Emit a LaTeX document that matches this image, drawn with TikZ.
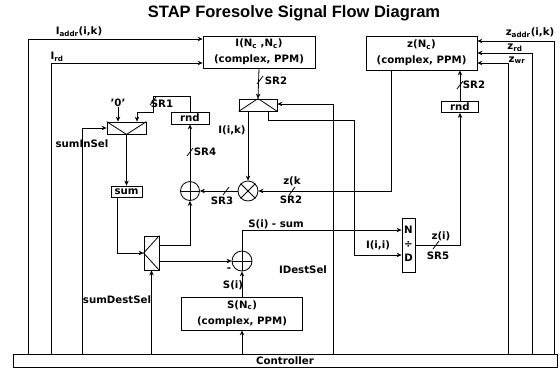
\documentclass[tikz,border=0pt]{standalone}
\usepackage{fontspec}
\setmainfont{DejaVu Sans}
\newfontfamily\titlefont{Liberation Sans}
\usetikzlibrary{arrows.meta}
\newcommand{\busmark}[1]{\draw (#1) ++(-3,4) -- ++(6,-8);}

\begin{document}
\begin{tikzpicture}[
  x=1pt, y=-1pt, line width=0.8pt,
  font=\fontsize{10.2}{16}\selectfont\bfseries,
  box/.style={draw, inner sep=0pt, align=center},
  mux/.style={draw, inner sep=0pt},
  sumnode/.style={draw, circle, inner sep=0pt, minimum size=19pt},
  lbl/.style={inner sep=0pt},
  >={Stealth[length=5pt,width=4.5pt]}
]
  \useasboundingbox (0,0) rectangle (560,368);

  \node[font=\titlefont\fontsize{16.5}{18}\selectfont\bfseries] (title) at (294,13) {STAP Foresolve Signal Flow Diagram};

  \node[box, minimum width=112pt, minimum height=32pt] (Imem) at (259,52) {I(N\textsubscript{c} ,N\textsubscript{c})\\(complex, PPM)};
  \node[box, minimum width=111pt, minimum height=34pt] (zmem) at (421.5,53) {z(N\textsubscript{c})\\(complex, PPM)};
  \node[box, minimum width=121pt, minimum height=33pt] (Smem) at (242,313.5) {S(N\textsubscript{c})\\(complex, PPM)};
  \node[box, minimum width=544pt, minimum height=13pt] (ctrl) at (285,360.5) {Controller};
  \node[box, minimum width=38pt, minimum height=12pt] (rndA) at (190,118) {rnd};
  \node[box, minimum width=37pt, minimum height=11pt] (rndB) at (460,107) {rnd};
  \node[box, minimum width=31pt, minimum height=11pt] (sumreg) at (126.5,191.5) {sum};

  \node[mux, minimum width=39pt, minimum height=12pt] (muxA) at (126.5,128) {};
  \node[mux, minimum width=38pt, minimum height=12pt] (muxB) at (258,105) {};
  \node[mux, minimum width=15pt, minimum height=34pt] (muxC) at (151.5,253) {};
  \node[mux, minimum width=13pt, minimum height=54pt] (div) at (408.5,245) {};
  \node[lbl] at ([yshift=15pt]div.center) {N};
  \node[lbl] at (div.center) {÷};
  \node[lbl] at ([yshift=-13pt]div.center) {D};

  \node[sumnode] (addA) at (190,191) {};
  \node[sumnode, minimum size=20pt] (mulA) at (248,191) {};
  \node[sumnode, minimum size=20pt] (addB) at (242,261) {};

  \draw (muxA.north west) -- (muxA.south) -- (muxA.north east);
  \draw (muxB.south west) -- (muxB.north) -- (muxB.south east);
  \draw (muxC.north east) -- (muxC.west) -- (muxC.south east);
  \draw (addA.north) -- (addA.south) (addA.west) -- (addA.east);
  \draw (addB.north) -- (addB.south) (addB.west) -- (addB.east);
  \draw (mulA.north west) -- (mulA.south east) (mulA.north east) -- (mulA.south west);

  \coordinate (ia) at (28,39);
  \coordinate (ir) at (51,63);
  \coordinate (sis) at (82,128);
  \coordinate (ids) at (333,104);
  \coordinate (za) at (554,41);
  \coordinate (zr) at (532,53);
  \coordinate (zw) at (508,63);
  \coordinate (zk) at (391,191);
  \coordinate (iii) at (354,255);
  \coordinate (sr1a) at (153,96);
  \coordinate (sr1b) at (137,112);

  \draw[->] (ia |- ctrl.north) -- (ia) -- (ia -| Imem.west);
  \draw[->] (ir |- ctrl.north) -- (ir) -- (ir -| Imem.west);
  \draw[->] (sis |- ctrl.north) -- (sis) -- (sis -| muxA.west);
  \draw[->] (muxC.south |- ctrl.north) -- (muxC.south);
  \draw[->] (Smem.south |- ctrl.north) -- (Smem.south);
  \draw[->] (ids |- ctrl.north) -- (ids) -- (ids -| muxB.east);
  \draw[->] (za |- ctrl.north) -- (za) -- (za -| zmem.east);
  \draw[->] (zr |- ctrl.north) -- (zr) -- (zr -| zmem.east);
  \draw[->] (zw |- ctrl.north) -- (zw) -- (zw -| zmem.east);

  \draw[->] (Imem.south) -- (muxB.north);
  \draw[->] (mulA.north |- muxB.south) -- (mulA.north);
  \draw[->] ([xshift=10pt]muxB.south) -- ++(0,9) -| (iii) -- (iii -| div.west);
  \draw[->] (zk |- zmem.south) -- (zk) -- (mulA.east);
  \draw[->] (mulA.west) -- (addA.east);
  \draw[->] (addA.north) -- (rndA.south);
  \draw[->] (rndA.north) |- (sr1a) -- (sr1a |- sr1b) -- (sr1b) -- (sr1b |- muxA.north);
  \node[lbl] (zero) at (118,103) {'0'};
  \draw[->] (zero) -- (zero |- muxA.north);
  \draw[->] (muxA.south) -- (sumreg.north);
  \draw[->] ([xshift=-9pt]sumreg.south) |- (muxC.west);
  \draw[->] ([yshift=8pt]muxC.east) -| (addA.south);
  \draw[->] (muxC.east |- addB.west) -- (addB.west);
  \draw[->] (Smem.north) -- (addB.south);
  \draw[->] (addB.north) |- ([yshift=15pt]div.west);
  \draw[->] (div.east) -| (rndB.south);
  \draw[->] (rndB.north) -- (rndB.north |- zmem.south);

  \busmark{153,101}
  \busmark{260,80}
  \busmark{190,152}
  \busmark{226,191}
  \busmark{292,191}
  \busmark{436,245}
  \busmark{460,85}

  \node[lbl] at (79,32) {I\textsubscript{addr}(i,k)};
  \node[lbl] at (57,57) {I\textsubscript{rd}};
  \node[lbl] at (162,104) {SR1};
  \node[lbl] at (82,144) {sumInSel};
  \node[lbl] at (232,130) {I(i,k)};
  \node[lbl] at (276,81) {SR2};
  \node[lbl] at (205,152) {SR4};
  \node[lbl] at (222,201) {SR3};
  \node[lbl] at (292,181) {z(k};
  \node[lbl] at (291,200) {SR2};
  \node[lbl] at (276,224) {S(i) - sum};
  \node[lbl] at (378,245) {I(i,i)};
  \node[lbl] at (303,270) {IDestSel};
  \node[lbl] at (441,236) {z(i)};
  \node[lbl] at (438,256) {SR5};
  \node[lbl] at (474,85) {SR2};
  \node[lbl] at (233,285) {S(i)};
  \node[lbl] at (117,300) {sumDestSel};
  \node[lbl] at (229,270) {-};
  \node[lbl] at (530,33) {z\textsubscript{addr}(i,k)};
  \node[lbl] at (515,48) {z\textsubscript{rd}};
  \node[lbl] at (517,60) {z\textsubscript{wr}};
\end{tikzpicture}
\end{document}
